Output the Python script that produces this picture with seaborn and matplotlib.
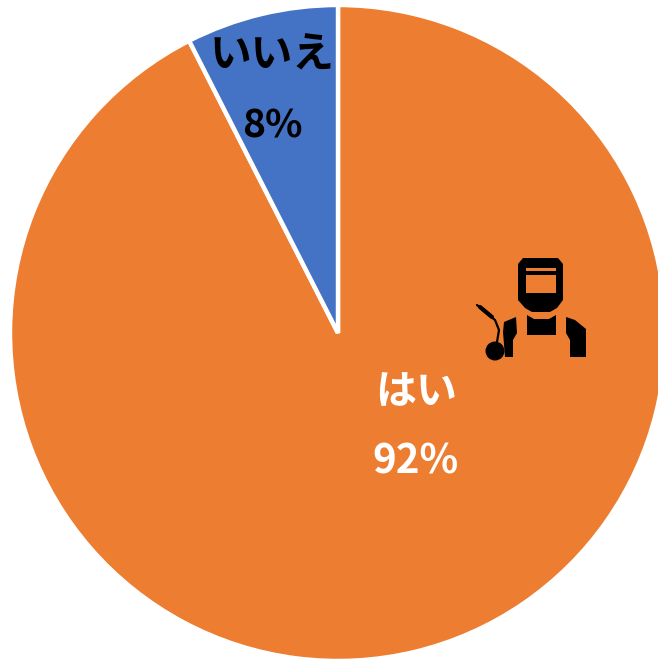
import matplotlib
matplotlib.use("Agg")
import matplotlib.pyplot as plt
import seaborn as sns
from matplotlib.patches import Circle, Polygon, Rectangle

labels = ["はい", "いいえ"]
values = [92.5, 7.5]
pct_labels = ["92%", "8%"]
colors = ["#ED7D31", "#4472C4"]

sns.set_theme(style="white")
plt.rcParams['font.family'] = ['Noto Sans CJK JP', 'DejaVu Sans']

fig = plt.figure(figsize=(6.58, 6.62), dpi=100)
ax = fig.add_axes([0, 0, 1, 1])

# pie, blue slice ends at 12 o'clock
ax.pie(values, colors=sns.color_palette(colors), startangle=90, counterclock=False,
       center=(338, 662 - 333), radius=328,
       wedgeprops={"edgecolor": "white", "linewidth": 3.2, "joinstyle": "bevel"}, frame=False)
ax.set_xlim(0, 658)
ax.set_ylim(0, 662)
ax.set_aspect("equal")
ax.axis("off")


def py(y):
    return 662 - y


# text
ax.text(416, py(393), labels[0], color="white", fontsize=29.5, fontweight="bold", ha="center", va="center")
ax.text(415, py(462), pct_labels[0], color="white", fontsize=29, fontweight="bold", ha="center", va="center")
ax.text(272, py(56), labels[1], color="black", fontsize=30, fontweight="bold", ha="center", va="center")
ax.text(272, py(126), pct_labels[1], color="black", fontsize=28, fontweight="bold", ha="center", va="center")

# welder icon
k = "black"
o = colors[0]
ax.add_patch(Polygon([(518, py(264)), (523, py(258)), (558, py(258)), (563, py(264)),
                      (563, py(300)), (557, py(308)), (550, py(312)), (532, py(312)),
                      (525, py(308)), (518, py(300))], fc=k, ec="none"))
ax.add_patch(Rectangle((526, py(293)), 30, 18, fc=o, ec="none"))
ax.add_patch(Rectangle((526, py(270.7)), 30, 2.4, fc=o, ec="none"))
ax.add_patch(Polygon([(527, py(315)), (534, py(319)), (549, py(319)), (556, py(315)),
                      (556, py(335)), (527, py(335))], fc=k, ec="none"))
ax.add_patch(Polygon([(566, py(317)), (575, py(320)), (586, py(329)), (586, py(357)),
                      (570, py(357)), (570, py(340)), (566, py(333))], fc=k, ec="none"))
ax.add_patch(Polygon([(516, py(317)), (504, py(322)), (503, py(332)), (505, py(357)),
                      (513, py(357)), (513, py(340)), (517, py(333))], fc=k, ec="none"))
ax.plot([477, 485, 495, 499, 497], [py(305), py(312), py(320), py(330), py(342)],
        color=k, lw=1.6, solid_capstyle="round")
ax.plot([480, 492], [py(307), py(317)], color=k, lw=3)
ax.add_patch(Circle((495, py(351)), 9.5, fc=k, ec="none"))

fig.savefig("out.png", dpi=100, facecolor="white")
